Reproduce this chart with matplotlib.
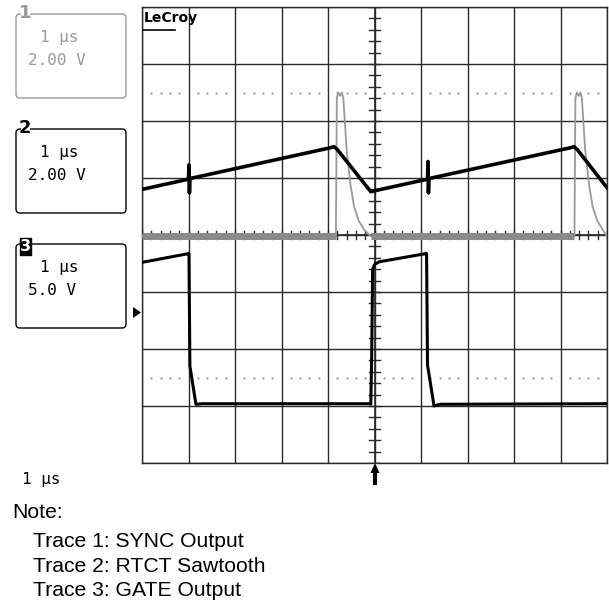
import numpy as np
import matplotlib
matplotlib.use("Agg")
import matplotlib.pyplot as plt
from matplotlib.patches import FancyBboxPatch, Rectangle, Polygon

# --- scope traces in divisions (x: 0..10, y: -4..4) ---
# trace 1 : SYNC output (gray)
sync_x = [0.00, 4.17, 4.19, 4.22, 4.26, 4.30, 4.33, 4.40, 4.48, 4.56, 4.66, 4.78, 4.92,
          9.30, 9.32, 9.35, 9.39, 9.43, 9.46, 9.53, 9.61, 9.69, 9.79, 9.91, 10.00]
sync_y = [-0.02, -0.02, 2.40, 2.50, 2.44, 2.50, 2.40, 1.50, 0.90, 0.50, 0.25, 0.09, -0.02,
          -0.02, 2.40, 2.50, 2.44, 2.50, 2.40, 1.50, 0.90, 0.50, 0.25, 0.09, -0.02]

# trace 2 : RTCT sawtooth (black)
saw_x = [0.00, 1.00, 1.01, 1.02, 1.03, 4.05, 4.13, 4.20, 4.92, 4.97,
         6.14, 6.15, 6.16, 6.17, 9.21, 9.29, 9.36, 10.00]
saw_y = [0.80, 0.98, 1.23, 0.74, 0.99, 1.53, 1.55, 1.50, 0.76, 0.77,
         0.98, 1.29, 0.74, 0.99, 1.53, 1.55, 1.50, 0.83]

# trace 3 : GATE output (black)
gate_x = [0.00, 0.98, 1.00, 1.01, 1.03, 1.16, 1.30, 4.91, 4.92, 4.94, 4.96, 5.00, 5.10,
          6.08, 6.11, 6.12, 6.14, 6.28, 6.40, 10.00]
gate_y = [-0.48, -0.33, -0.32, -0.33, -2.30, -2.97, -2.96, -2.96, -2.97, -2.10, -0.60, -0.52, -0.47,
          -0.33, -0.32, -0.33, -2.28, -3.00, -2.97, -2.96]

# channel boxes on the left
chan_labels = ["1", "2", "3"]
chan_time = ["1 \u03bcs", "1 \u03bcs", "1 \u03bcs"]
chan_volts = ["2.00 V", "2.00 V", "5.0 V"]
chan_top = [14, 129, 244]          # pixel rows of the box tops
chan_color = ["#9a9a9a", "black", "black"]

timebase = "1 \u03bcs"
note_lines = ["Note:", "Trace 1: SYNC Output", "Trace 2: RTCT Sawtooth", "Trace 3: GATE Output"]

W, H = 609, 606
fig = plt.figure(figsize=(W / 100, H / 100), dpi=100)

# overlay in pixel coordinates for the side panel and notes
ov = fig.add_axes([0, 0, 1, 1])
ov.set_xlim(0, W)
ov.set_ylim(H, 0)
ov.axis("off")

mono = "DejaVu Sans Mono"
narrow = ["Liberation Sans Narrow", "DejaVu Sans"]
for lab, tt, vv, top, col in zip(chan_labels, chan_time, chan_volts, chan_top, chan_color):
    box = FancyBboxPatch((16, top), 110, 84, boxstyle="round,pad=0,rounding_size=4",
                         fc="white", ec=col, lw=1.0)
    ov.add_patch(box)
    if lab == "3":
        ov.add_patch(Rectangle((19.5, top - 6), 11, 17, fc="black", ec="black", zorder=3))
        ov.text(25, top + 2.5, lab, color="white", fontsize=11.5, fontweight="bold",
                family=narrow, ha="center", va="center", zorder=4)
    else:
        ov.add_patch(Rectangle((20.5, top - 2), 9, 4, fc="white", ec="none", zorder=3))
        ov.text(25, top - 1, lab, color=col, fontsize=13, fontweight="bold",
                family=narrow, ha="center", va="center", zorder=4)
    ov.text(40, top + 28, tt, color=col, fontsize=11.5, family=mono, va="baseline")
    ov.text(28, top + 51, vv, color=col, fontsize=11.5, family=mono, va="baseline")

ov.text(22, 484, timebase, color="black", fontsize=11.5, family=mono, va="baseline")

ov.text(12, 518, note_lines[0], fontsize=15.2, family="Liberation Sans", va="baseline")
for i, line in enumerate(note_lines[1:]):
    ov.text(33, 547 + 24.5 * i, line, fontsize=15.2, family="Liberation Sans", va="baseline")

# ground marker and trigger arrow
ov.add_patch(Polygon([[133, 307], [133, 318], [141, 312.5]], closed=True, fc="black", ec="none"))
ov.add_patch(Polygon([[370.5, 473], [375, 463], [379.5, 473]], closed=True, fc="black", ec="none"))
ov.plot([375, 375], [470, 485], color="black", lw=3, solid_capstyle="butt")

# --- the scope screen ---
left, right, top_px, bot_px = 142, 607, 7, 463
ax = fig.add_axes([left / W, 1 - bot_px / H, (right - left) / W, (bot_px - top_px) / H])
ax.set_xlim(0, 10)
ax.set_ylim(-4, 4)
ax.set_xticks(range(11))
ax.set_yticks(range(-4, 5))
ax.tick_params(length=0, labelbottom=False, labelleft=False)
ax.grid(True, color="#2a2a2a", lw=1.0)
for s in ax.spines.values():
    s.set_color("#2a2a2a")
    s.set_linewidth(1.0)

# centre axes with minor ticks
ax.axvline(5, color="#2a2a2a", lw=1.2)
ax.axhline(0, color="#2a2a2a", lw=1.2)
for v in np.arange(-4, 4.01, 0.2):
    ax.plot([4.89, 5.11], [v, v], color="#2a2a2a", lw=1.0)
for v in np.arange(0, 10.01, 0.2):
    ax.plot([v, v], [-0.075, 0.075], color="#2a2a2a", lw=1.0)

# dotted reference rows
dots = [v for v in np.arange(0.2, 9.9, 0.2) if abs(v - round(v)) > 0.05]
for yy in (2.5, -2.5):
    ax.plot(dots, [yy] * len(dots), ls="none", marker="s", ms=1.2, color="#777777", mew=0)

ax.text(0.03, 3.93, "LeCroy", fontsize=10, fontweight="bold", family=narrow,
        va="top", ha="left")
ax.plot([0.03, 0.72], [3.60, 3.60], color="black", lw=1.2)

# traces
sx = np.array(sync_x)
sy = np.array(sync_y)
ax.plot(sx, sy, color="#9a9a9a", lw=1.3, zorder=5)
base = np.abs(sy) < 0.05
for a, b in [(0.0, 4.17), (4.92, 9.30)]:
    m = (sx >= a) & (sx <= b) & base
    ax.plot(sx[m], sy[m], color="#8a8a8a", lw=5.0, zorder=5, solid_capstyle="butt")

ax.plot(saw_x, saw_y, color="black", lw=2.6, zorder=6)
ax.plot(gate_x, gate_y, color="black", lw=2.2, zorder=6)

fig.savefig("out.png", dpi=100)
